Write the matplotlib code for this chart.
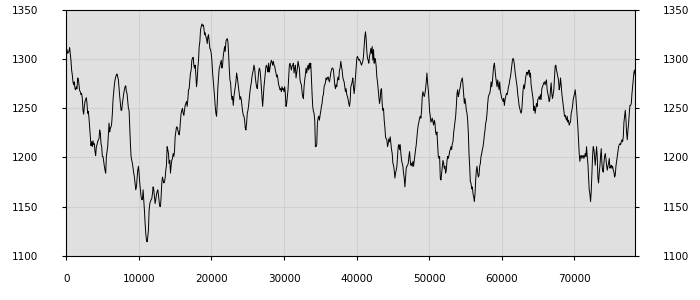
import numpy as np
import matplotlib
matplotlib.use('Agg')
import matplotlib.pyplot as plt

# series, one value every 92 units, split in chunks
seg1 = [1306, 1310, 1306, 1307, 1308, 1312, 1306, 1299, 1289, 1284, 1277, 1274, 1277, 1270, 1269, 1272,
        1270, 1281, 1280, 1274, 1268, 1267, 1264, 1265, 1260, 1248, 1244, 1252, 1257, 1259, 1261, 1255,
        1245, 1247, 1240, 1231, 1221, 1212, 1216, 1211, 1217, 1213, 1214, 1206, 1202, 1211, 1213, 1216,
        1218, 1219, 1228, 1225, 1214, 1211, 1201, 1201, 1196, 1191, 1187, 1184, 1201, 1206, 1211, 1223,
        1235, 1226, 1230, 1231, 1235, 1245, 1259, 1267, 1274, 1279, 1282, 1284, 1285, 1282, 1279, 1270,
        1262, 1255, 1248, 1248, 1255, 1260, 1265, 1269, 1272, 1273, 1267, 1265, 1257, 1250, 1248, 1231,
        1214, 1201, 1197, 1194, 1189, 1184, 1180, 1174, 1167, 1170, 1179, 1187, 1191, 1184, 1174, 1167,
        1160, 1157, 1157, 1167, 1157, 1146, 1133, 1123, 1116, 1114, 1119, 1126, 1146, 1153, 1155, 1157,
        1158, 1163, 1170, 1167, 1160, 1153, 1157, 1162, 1165, 1167, 1162, 1155, 1150]
seg2 = [1150, 1160, 1174, 1180, 1177, 1174, 1175, 1179, 1187, 1192, 1211, 1208, 1204, 1194, 1197, 1184,
        1192, 1197, 1199, 1204, 1201, 1206, 1221, 1226, 1231, 1231, 1228, 1225, 1223, 1228, 1238, 1245,
        1248, 1250, 1245, 1243, 1248, 1253, 1255, 1257, 1252, 1259, 1269, 1270, 1279, 1286, 1289, 1299,
        1301, 1302, 1294, 1291, 1294, 1284, 1272, 1279, 1291, 1299, 1313, 1318, 1330, 1333, 1336, 1334,
        1335, 1332, 1325, 1327, 1323, 1321, 1316, 1323, 1325, 1318, 1311, 1310, 1306, 1299, 1287, 1279,
        1272, 1262, 1252, 1245, 1242, 1255, 1272, 1282, 1291, 1293, 1296, 1299, 1291, 1294, 1303, 1308,
        1313, 1308, 1318, 1320, 1321, 1318, 1306, 1291, 1279, 1276, 1265, 1259, 1262, 1253, 1262, 1267,
        1272, 1277, 1286, 1282, 1276, 1269, 1265, 1259, 1262, 1259, 1253, 1247, 1243, 1242, 1238, 1230,
        1228, 1235, 1245, 1248, 1253, 1260, 1267, 1272, 1276, 1282, 1286, 1289, 1294, 1291, 1282]
seg3 = [1276, 1272, 1270, 1279, 1287, 1291, 1289, 1282, 1272, 1262, 1252, 1262, 1272, 1279, 1286, 1293,
        1294, 1291, 1287, 1296, 1287, 1291, 1296, 1299, 1297, 1294, 1298, 1294, 1293, 1289, 1286, 1282,
        1284, 1279, 1274, 1272, 1269, 1270, 1267, 1272, 1269, 1270, 1267, 1272, 1265, 1252, 1255, 1262,
        1269, 1282, 1294, 1296, 1293, 1289, 1293, 1294, 1296, 1286, 1291, 1294, 1281, 1286, 1291, 1298,
        1294, 1291, 1279, 1276, 1274, 1267, 1262, 1260, 1272, 1279, 1284, 1291, 1286, 1291, 1294, 1289,
        1296, 1291, 1296, 1282, 1265, 1252, 1247, 1245, 1238, 1211, 1211, 1213, 1235, 1240, 1242, 1238,
        1243, 1247, 1252, 1255, 1262, 1264, 1272, 1274, 1276, 1281, 1279, 1281, 1282, 1279, 1277, 1281,
        1286, 1289, 1291, 1291, 1289, 1282, 1274, 1270, 1274, 1272, 1279, 1282, 1279, 1289, 1291, 1298,
        1293, 1289, 1282, 1279, 1277, 1272, 1267, 1270, 1264, 1262, 1259, 1255, 1252, 1257, 1272]
seg4 = [1274, 1277, 1281, 1272, 1265, 1272, 1282, 1291, 1301, 1303, 1301, 1299, 1300, 1298, 1296, 1294,
        1296, 1298, 1303, 1313, 1323, 1328, 1321, 1308, 1301, 1299, 1296, 1303, 1306, 1311, 1306, 1313,
        1299, 1310, 1296, 1301, 1299, 1293, 1282, 1277, 1269, 1262, 1255, 1259, 1269, 1270, 1255, 1248,
        1250, 1238, 1231, 1221, 1219, 1218, 1211, 1214, 1219, 1216, 1221, 1214, 1208, 1204, 1194, 1192,
        1187, 1179, 1184, 1187, 1191, 1201, 1211, 1213, 1208, 1213, 1204, 1197, 1194, 1191, 1184, 1179,
        1170, 1180, 1189, 1191, 1192, 1194, 1201, 1206, 1197, 1192, 1194, 1191, 1196, 1191, 1197, 1204,
        1208, 1213, 1221, 1228, 1233, 1236, 1240, 1242, 1240, 1248, 1262, 1267, 1264, 1262, 1265, 1270,
        1277, 1286, 1276, 1269, 1259, 1247, 1242, 1236, 1238, 1240, 1236, 1233, 1238, 1235, 1226, 1223,
        1226, 1214, 1201, 1199, 1201, 1179, 1177, 1184, 1191, 1197, 1194, 1189, 1191, 1184, 1187]
seg5 = [1196, 1201, 1199, 1202, 1206, 1208, 1211, 1208, 1214, 1216, 1225, 1231, 1238, 1242, 1252, 1265,
        1269, 1262, 1265, 1269, 1272, 1277, 1279, 1281, 1274, 1265, 1255, 1260, 1255, 1248, 1245, 1238,
        1225, 1204, 1191, 1175, 1174, 1168, 1170, 1163, 1160, 1155, 1163, 1177, 1187, 1191, 1184, 1180,
        1182, 1191, 1194, 1201, 1204, 1208, 1211, 1216, 1223, 1228, 1235, 1238, 1245, 1255, 1262, 1264,
        1265, 1269, 1277, 1272, 1277, 1286, 1293, 1296, 1289, 1282, 1277, 1272, 1279, 1274, 1269, 1277,
        1267, 1264, 1260, 1259, 1257, 1260, 1253, 1259, 1262, 1265, 1264, 1267, 1272, 1274, 1279, 1282,
        1287, 1293, 1299, 1301, 1299, 1294, 1287, 1282, 1277, 1272, 1264, 1259, 1253, 1250, 1247, 1245,
        1248, 1259, 1269, 1274, 1270, 1276, 1282, 1286, 1287, 1284, 1287, 1289, 1282, 1286, 1274, 1269,
        1264, 1259, 1248, 1252, 1245, 1250, 1255, 1252, 1259, 1260, 1262, 1259, 1264, 1259, 1270]
seg6 = [1272, 1274, 1276, 1277, 1274, 1277, 1279, 1269, 1265, 1262, 1257, 1259, 1269, 1276, 1265, 1260,
        1264, 1269, 1282, 1293, 1294, 1289, 1286, 1282, 1279, 1269, 1272, 1281, 1274, 1265, 1259, 1252,
        1248, 1242, 1243, 1240, 1238, 1242, 1236, 1238, 1233, 1235, 1236, 1245, 1248, 1252, 1259, 1262,
        1265, 1269, 1262, 1252, 1242, 1231, 1218, 1204, 1196, 1201, 1202, 1199, 1201, 1202, 1199, 1201,
        1204, 1201, 1211, 1201, 1194, 1180, 1167, 1163, 1155, 1165, 1184, 1201, 1211, 1208, 1201, 1192,
        1201, 1211, 1201, 1179, 1174, 1184, 1191, 1201, 1209, 1194, 1187, 1185, 1194, 1201, 1204, 1199,
        1192, 1187, 1191, 1194, 1199, 1189, 1191, 1192, 1189, 1191, 1187, 1185, 1180, 1182, 1191, 1196,
        1201, 1206, 1211, 1213, 1214, 1213, 1216, 1218, 1216, 1221, 1236, 1242, 1248, 1238, 1225, 1218,
        1228, 1235, 1245, 1253, 1253, 1255, 1265, 1272, 1279, 1287, 1289, 1284]

step = 92
values = np.array(seg1 + seg2 + seg3 + seg4 + seg5 + seg6)
x = np.arange(len(values)) * step

x_ticks = [0, 10000, 20000, 30000, 40000, 50000, 60000, 70000]
y_ticks = [1100, 1150, 1200, 1250, 1300, 1350]

fig = plt.figure(figsize=(7, 3), dpi=100)
ax = fig.add_axes([0.0947, 0.148, 0.812, 0.818])
ax.set_facecolor('#e0e0e0')
ax.plot(x, values, color='black', linewidth=0.7)

ax.set_xlim(0, 78300)
ax.set_ylim(1100, 1350)
ax.set_xticks(x_ticks)
ax.set_yticks(y_ticks)
ax.grid(True, color='#d0d0d0', linewidth=0.8)
ax.set_axisbelow(True)
ax.tick_params(axis='both', labelsize=7.5, length=3, width=0.8, colors='black')
ax.tick_params(axis='y', right=True, labelright=True, pad=17)
ax.tick_params(axis='x', pad=10)
for s in ax.spines.values():
    s.set_linewidth(0.8)

fig.savefig('out.png', dpi=100)
